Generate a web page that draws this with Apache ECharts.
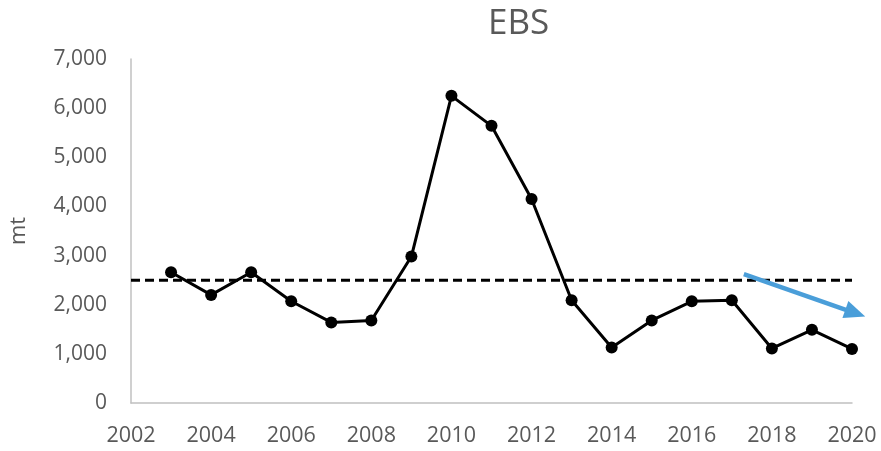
<!DOCTYPE html>
<html>
<head>
<meta charset="utf-8">
<script src="https://cdn.jsdelivr.net/npm/echarts@6/dist/echarts.min.js"></script>
<style>html,body{margin:0;padding:0;background:#fff}#c{width:881px;height:451px}</style>
</head>
<body>
<div id="c"></div>
<script>
const years = [2003,2004,2005,2006,2007,2008,2009,2010,2011,2012,2013,2014,2015,2016,2017,2018,2019,2020];
const catchMt = [2660,2200,2660,2070,1640,1680,2980,6250,5640,4150,2090,1130,1680,2070,2090,1110,1490,1100];
const thresholdYears = [2002, 2020];
const thresholdValue = 2500;
const trendArrow = [2017.3, 2620, 2020.33, 1760];

const chart = echarts.init(document.getElementById('c'), null, {renderer: 'canvas'});
const txt = '#595959';
const font = 'Open Sans';
chart.setOption({
  animation: false,
  backgroundColor: '#fff',
  title: {
    text: 'EBS', left: 483, top: 2,
    textStyle: {color: txt, fontFamily: font, fontWeight: 'normal', fontSize: 35}
  },
  grid: {left: 128, right: 29, top: 59, bottom: 48},
  xAxis: {
    type: 'value', min: 2002, max: 2020, interval: 2,
    axisLine: {show: true, lineStyle: {color: '#c0c0c0', width: 1.5}},
    axisTick: {show: false},
    splitLine: {show: false},
    axisLabel: {color: txt, fontFamily: font, fontSize: 21.5, margin: 22, formatter: v => String(v)}
  },
  yAxis: {
    type: 'value', min: 0, max: 7000, interval: 1000,
    name: 'mt', nameLocation: 'middle', nameGap: 101, nameRotate: 90,
    nameTextStyle: {color: txt, fontFamily: font, fontSize: 22},
    axisLine: {show: true, lineStyle: {color: '#c0c0c0', width: 1.5}},
    axisTick: {show: false},
    splitLine: {show: false},
    axisLabel: {color: txt, fontFamily: font, fontSize: 21, margin: 24}
  },
  series: [
    {
      type: 'line',
      data: thresholdYears.map(y => [y, thresholdValue]),
      symbol: 'none',
      lineStyle: {color: '#000', width: 3, type: [9, 5]},
      z: 2
    },
    {
      type: 'line',
      data: years.map((y, i) => [y, catchMt[i]]),
      symbol: 'circle', symbolSize: 12,
      itemStyle: {color: '#000'},
      lineStyle: {color: '#000', width: 3},
      z: 3
    },
    {
      type: 'custom',
      clip: false,
      data: [trendArrow],
      encode: {x: [0, 2], y: [1, 3]},
      renderItem: function (params, api) {
        const p1 = api.coord([api.value(0), api.value(1)]);
        const p2 = api.coord([api.value(2), api.value(3)]);
        const dx = p2[0] - p1[0], dy = p2[1] - p1[1];
        const len = Math.sqrt(dx * dx + dy * dy);
        const ux = dx / len, uy = dy / len;
        const headLen = 21, headHalf = 9;
        const bx = p2[0] - ux * headLen, by = p2[1] - uy * headLen;
        const nx = -uy, ny = ux;
        return {
          type: 'group',
          children: [
            {type: 'line', shape: {x1: p1[0], y1: p1[1], x2: bx + ux * 2, y2: by + uy * 2},
             style: {stroke: '#4a9ed9', lineWidth: 4.5}},
            {type: 'polygon', shape: {points: [[p2[0], p2[1]], [bx + nx * headHalf, by + ny * headHalf], [bx - nx * headHalf, by - ny * headHalf]]},
             style: {fill: '#4a9ed9'}}
          ]
        };
      },
      z: 4
    }
  ]
});
</script>
</body>
</html>
